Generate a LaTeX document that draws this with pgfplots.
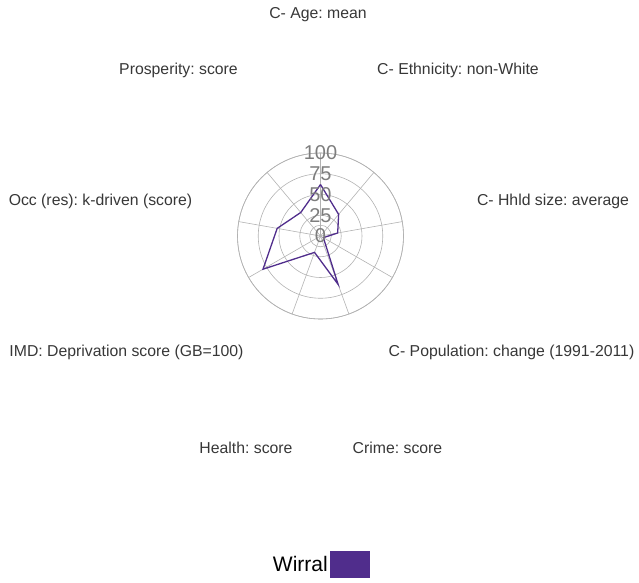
\documentclass[border=0pt]{standalone}
\usepackage{fontspec}
\setmainfont{Liberation Sans}
\usepackage{pgfplots}
\pgfplotsset{compat=1.18}
\usepgfplotslibrary{polar}
\definecolor{wpurple}{RGB}{80,45,140}
\definecolor{gridgray}{RGB}{178,178,178}
\definecolor{labgray}{RGB}{55,55,55}
\definecolor{tickgray}{RGB}{125,125,125}
\frenchspacing
\begin{document}
\begin{tikzpicture}
\begin{polaraxis}[
  width=166pt, height=166pt, scale only axis,
  xmin=0, xmax=360, ymin=0, ymax=100,
  xtick={10,50,90,130,170,210,250,290,330},
  xticklabels={},
  ytick={25,50,75,100},
  yticklabels={},
  extra y ticks={13}, extra y tick labels={},
  extra y tick style={grid=major},
  grid=major,
  major grid style={gridgray, line width=0.6pt},
  x axis line style={gridgray, line width=0.6pt},
  y axis line style={draw=none},
  tick style={draw=none},
  clip=false,
  legend plot pos=right,
  legend style={at={(0.5,-1.48)}, anchor=center, draw=none, fill=none,
    font=\fontsize{21}{24}\selectfont,
    /tikz/every even column/.append style={column sep=4pt}},
  legend image code/.code={\fill[wpurple] (0pt,-13pt) rectangle (39pt,13pt);},
]
\addplot[wpurple, line width=1.3pt] coordinates {
  (90,62) (50,34) (10,21) (330,4) (290,62) (250,21) (210,80) (170,53) (130,37) (90,62)
};
\addlegendentry{Wirral}
\coordinate (c) at (axis cs:0,0);
\node[tickgray, font=\fontsize{20}{20}\selectfont] at (axis cs:90,100) {100};
\node[tickgray, font=\fontsize{20}{20}\selectfont] at (axis cs:90,75) {75};
\node[tickgray, font=\fontsize{20}{20}\selectfont] at (axis cs:90,50) {50};
\node[tickgray, font=\fontsize{20}{20}\selectfont] at (axis cs:90,25) {25};
\node[tickgray, font=\fontsize{20}{20}\selectfont] at (axis cs:90,0) {0};
\end{polaraxis}
\begin{scope}[every node/.style={labgray, font=\fontsize{15.8}{18}\selectfont, anchor=center}]
\node at ([shift={(-2.5pt,221pt)}]c) {C- Age: mean};
\node at ([shift={(137.5pt,166pt)}]c) {C- Ethnicity: non-White};
\node at ([shift={(232.5pt,35pt)}]c) {C- Hhld size: average};
\node at ([shift={(191pt,-116pt)}]c) {C- Population: change (1991-2011)};
\node at ([shift={(77pt,-212pt)}]c) {Crime: score};
\node at ([shift={(-74.5pt,-212pt)}]c) {Health: score};
\node at ([shift={(-194pt,-116pt)}]c) {IMD: Deprivation score (GB=100)};
\node at ([shift={(-220pt,35pt)}]c) {Occ (res): k-driven (score)};
\node at ([shift={(-142pt,166pt)}]c) {Prosperity: score};
\end{scope}
\pgfresetboundingbox
\path ([shift={(-320.5pt,236pt)}]c) rectangle ++(639pt,-582pt);
\end{tikzpicture}
\end{document}
